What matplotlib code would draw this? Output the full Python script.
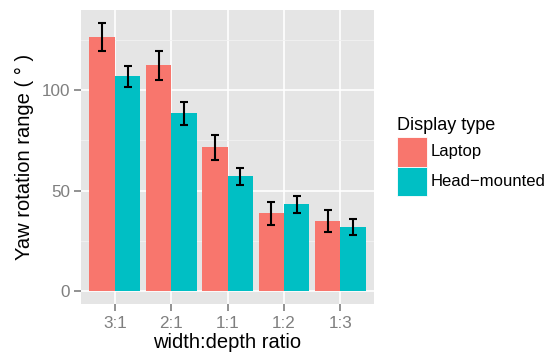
import numpy as np
import matplotlib.pyplot as plt
from matplotlib.patches import Rectangle

# Mean yaw range per width:depth ratio, with error bar half-widths
ratios = ["3:1", "2:1", "1:1", "1:2", "1:3"]
laptop = [126.2, 112.3, 71.5, 38.7, 34.7]
laptop_err = [7.0, 7.3, 6.3, 5.8, 5.5]
headset = [106.8, 88.4, 57.1, 43.1, 31.7]
headset_err = [5.4, 5.6, 4.3, 4.3, 4.0]
groups = ["Laptop", "Head\u2212mounted"]
colors = ["#F8766D", "#00BFC4"]

plt.rcParams['font.family'] = ['Liberation Sans', 'DejaVu Sans']

W, H = 555, 354
fig = plt.figure(figsize=(W / 100, H / 100), dpi=100)
ax = fig.add_axes([0.146, 0.140, 0.528, 0.832])

x = np.arange(1, len(ratios) + 1)
w = 0.45
for vals, errs, off, c in [(laptop, laptop_err, -w / 2, colors[0]),
                           (headset, headset_err, w / 2, colors[1])]:
    ax.bar(x + off, vals, width=w, color=c, zorder=2)
    ax.errorbar(x + off, vals, yerr=errs, fmt='none', ecolor='black',
                elinewidth=1.5, capsize=2.8, capthick=1.5, zorder=3)

# ggplot-like panel
ax.set_facecolor('#E5E5E5')
ax.set_xlim(0.4, 5.6)
top = max(np.array(laptop) + np.array(laptop_err))
ax.set_ylim(-0.05 * top, 1.05 * top)
ax.set_yticks([0, 50, 100])
ax.set_yticks([25, 75, 125], minor=True)
ax.set_xticks(x)
ax.set_xticklabels(ratios)
ax.grid(True, which='major', color='white', linewidth=1.2, zorder=0)
ax.grid(True, which='minor', axis='y', color='#F2F2F2', linewidth=0.6, zorder=0)
ax.set_axisbelow(True)
for s in ax.spines.values():
    s.set_visible(False)
ax.tick_params(which='major', colors='#7F7F7F', labelsize=12.3, length=5, width=1.2, pad=3)
ax.tick_params(which='minor', length=0)
ax.set_xlabel("width:depth ratio", fontsize=14.5, labelpad=2)
ax.set_ylabel("Yaw rotation range ( \u00b0 )", fontsize=14.5, labelpad=5)

# legend drawn by hand: title, stacked keys, labels
def fx(px):
    return px / W

def fy(py):
    return 1 - py / H

fig.text(fx(397), fy(125), "Display type", fontsize=13, va='center', ha='left')
key_top = 137
key_h = 29.5
for i, (g, c) in enumerate(zip(groups, colors)):
    y0 = key_top + i * key_h
    fig.add_artist(Rectangle((fx(397), fy(y0 + key_h)), fx(30), key_h / H,
                             transform=fig.transFigure, facecolor=c,
                             edgecolor='white', linewidth=0.6))
    fig.text(fx(431), fy(y0 + key_h / 2), g, fontsize=12, va='center', ha='left')

fig.savefig('out.png', dpi=100)
